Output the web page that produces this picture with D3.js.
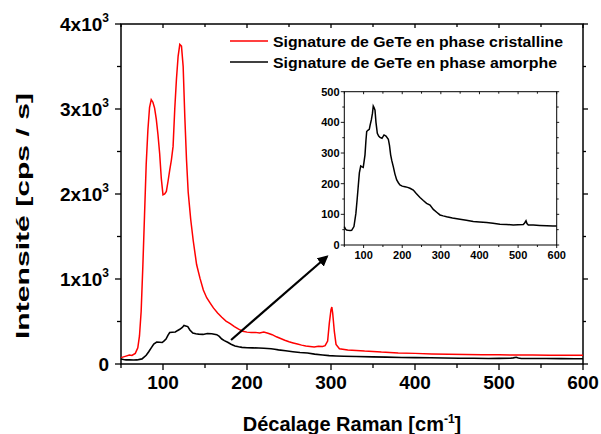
<!DOCTYPE html>
<html>
<head>
<meta charset="utf-8">
<script src="https://cdn.jsdelivr.net/npm/d3@7"></script>
<style>
  body { margin: 0; background: #fff; }
  text { font-family: "Liberation Sans", Arial, sans-serif; font-weight: bold; fill: #000; }
</style>
</head>
<body>
<svg id="chart"></svg>
<script>
// Raman shift (cm-1) and intensity (cps/s)
const crystRaman = [50,55,60,63,67,70,72,74,76,78,80,82,84,86,88,90,92,94,96,98,100,102,104,106,108,110,112,114,116,118,120,122,124,126,128,130,133,136,140,144,148,152,156,160,165,170,175,180,185,190,195,200,205,210,215,220,225,230,235,240,245,250,255,260,265,270,275,280,285,290,293,296,298,300,301,302,304,306,310,320,330,340,350,360,370,380,400,420,440,460,480,500,520,540,560,580,600];
const crystInt = [75,90,105,100,125,190,330,620,1150,1750,2350,2750,3020,3110,3080,3010,2880,2700,2480,2180,1990,2000,2030,2150,2280,2400,2560,3000,3350,3620,3760,3740,3500,2900,2400,2020,1700,1450,1170,1010,870,780,720,660,600,550,505,475,440,410,385,375,370,372,365,375,362,345,320,300,280,262,248,235,222,212,206,200,210,205,215,270,480,640,670,600,380,230,180,165,160,152,148,140,135,130,125,118,115,112,110,108,106,105,104,104,103];

const amorphRaman = [50,53,56,60,65,69,75,80,83,86,89,92.5,96,99,101,103.6,106,108,111,114.7,117,120,123,125,127,129.5,132,135.5,139,142.4,147.6,152.8,158,164,167,170,173,177,181,185.7,190,194,200,207,214,220,228.7,233,237.5,246,254.6,263,272,280.5,290,297.8,306,315,330,349.6,366,384,400,418.7,435,453,470,487.6,500,513.5,517,520.5,523,526.5,539.4,556,574,590,600];
const amorphInt = [60,52,49,48,47,48,60,103,145,190,235,258,255,253,270,294,340,370,374,377,392,408,430,453,448,440,400,364,355,351,348,359,355,345,325,294,275,255,232,212,203,196,192,190,188,185,179,173,166,155,145,136,130,116,106,98,95,92,88,84,81,77,75,73,71,68,67,65,66,67,72,79,70,65,65,64,63,62,62];

const xTicks = [100,200,300,400,500,600];
const yTicksMain = [0,1000,2000,3000,4000];
const yTicksInset = [0,100,200,300,400,500];

const legendItems = [
  {label: "Signature de GeTe en phase cristalline", color: "#ff0000", len: 290},
  {label: "Signature de GeTe en phase amorphe", color: "#000000", len: 284}
];

// arrow pointing from the amorphous curve to the inset (data units)
const arrowFrom = [181, 282];
const arrowTo = [295, 1262];

const width = 601, height = 434;
const marginLeft = 121, marginRight = 18, marginTop = 24, marginBottom = 70;

const svg = d3.select("#chart")
  .attr("width", width)
  .attr("height", height)
  .attr("viewBox", [0, 0, width, height]);

const x = d3.scaleLinear().domain([50, 600]).range([marginLeft, width - marginRight]);
const y = d3.scaleLinear().domain([0, 4000]).range([height - marginBottom, marginTop]);

const minorX = d3.range(50, 601, 50).filter(v => v % 100 !== 0);
const minorY = [500,1500,2500,3500];

// frame
svg.append("rect")
  .attr("x", x(50)).attr("y", y(4000))
  .attr("width", x(600) - x(50)).attr("height", y(0) - y(4000))
  .attr("fill", "none").attr("stroke", "#000").attr("stroke-width", 1.5);

function tickLines(g, vals, len, horiz, pos, scale) {
  g.selectAll(null).data(vals).join("line")
    .attr("x1", d => horiz ? scale(d) : pos)
    .attr("x2", d => horiz ? scale(d) : pos + len)
    .attr("y1", d => horiz ? pos : scale(d))
    .attr("y2", d => horiz ? pos + len : scale(d))
    .attr("stroke", "#000").attr("stroke-width", 1.3);
}

const ticksG = svg.append("g");
tickLines(ticksG, xTicks, 6, true, y(0), x);
tickLines(ticksG, minorX, 4, true, y(0), x);
tickLines(ticksG, xTicks, 4, true, y(4000), x);
tickLines(ticksG, minorX, 3, true, y(4000), x);
tickLines(ticksG, yTicksMain, -6, false, x(50), y);
tickLines(ticksG, minorY, -4, false, x(50), y);
tickLines(ticksG, yTicksMain, 5, false, x(600), y);
tickLines(ticksG, minorY, 3, false, x(600), y);

// x tick labels
svg.append("g").selectAll("text").data(xTicks).join("text")
  .attr("x", d => x(d)).attr("y", 389)
  .attr("text-anchor", "middle")
  .style("font-size", "19px")
  .text(d => d);

// y tick labels with superscript
const yl = svg.append("g").selectAll("text").data(yTicksMain).join("text")
  .attr("x", 109).attr("y", d => y(d) + 6.5)
  .attr("text-anchor", "end")
  .style("font-size", "19px");
yl.each(function(d) {
  const t = d3.select(this);
  if (d === 0) { t.text("0"); return; }
  t.append("tspan").text(`${d / 1000}x10`);
  t.append("tspan").attr("dy", -9).style("font-size", "12px").text("3");
});

// axis titles
const xt = svg.append("text")
  .attr("x", 352).attr("y", 431)
  .attr("text-anchor", "middle")
  .style("font-size", "20px");
xt.append("tspan").text("Décalage Raman [cm");
xt.append("tspan").attr("dy", -8).style("font-size", "12px").text("-1");
xt.append("tspan").attr("dy", 8).text("]");

svg.append("text")
  .attr("transform", "translate(29,216) rotate(-90)")
  .attr("text-anchor", "middle")
  .attr("textLength", 246)
  .attr("lengthAdjust", "spacingAndGlyphs")
  .style("font-size", "19px")
  .text("Intensité [cps / s]");

// curves
const line = d3.line().x(d => x(d[0])).y(d => y(d[1]));
svg.append("path")
  .datum(crystRaman.map((r, i) => [r, crystInt[i]]))
  .attr("d", line).attr("fill", "none")
  .attr("stroke", "#ff0000").attr("stroke-width", 1.5);
svg.append("path")
  .datum(amorphRaman.map((r, i) => [r, amorphInt[i]]))
  .attr("d", line).attr("fill", "none")
  .attr("stroke", "#000").attr("stroke-width", 1.6);

// legend
const legend = svg.append("g");
legendItems.forEach((item, i) => {
  const ly = 41 + i * 21;
  legend.append("line")
    .attr("x1", 230).attr("x2", 268).attr("y1", ly).attr("y2", ly)
    .attr("stroke", item.color).attr("stroke-width", 1.6);
  legend.append("text")
    .attr("x", 273).attr("y", ly + 5.5)
    .attr("textLength", item.len)
    .attr("lengthAdjust", "spacingAndGlyphs")
    .style("font-size", "14.5px")
    .text(item.label);
});

// arrow
svg.append("defs").append("marker")
  .attr("id", "head").attr("viewBox", "0 0 10 10")
  .attr("refX", 8).attr("refY", 5)
  .attr("markerWidth", 5).attr("markerHeight", 5)
  .attr("orient", "auto")
  .append("path").attr("d", "M0,0 L10,5 L0,10 z").attr("fill", "#000");
svg.append("line")
  .attr("x1", x(arrowFrom[0])).attr("y1", y(arrowFrom[1]))
  .attr("x2", x(arrowTo[0])).attr("y2", y(arrowTo[1]))
  .attr("stroke", "#000").attr("stroke-width", 2.2)
  .attr("marker-end", "url(#head)");

// inset
const ix = d3.scaleLinear().domain([50, 600]).range([344.3, 556.7]);
const iy = d3.scaleLinear().domain([0, 500]).range([245, 91.7]);
const inset = svg.append("g");
inset.append("rect")
  .attr("x", ix(50)).attr("y", iy(500))
  .attr("width", ix(600) - ix(50)).attr("height", iy(0) - iy(500))
  .attr("fill", "#fff").attr("stroke", "#000").attr("stroke-width", 1);
const iMinorY = [50,150,250,350,450];
tickLines(inset, xTicks, 3, true, iy(0), ix);
tickLines(inset, minorX, 2, true, iy(0), ix);
tickLines(inset, xTicks, 2.5, true, iy(500), ix);
tickLines(inset, minorX, 2, true, iy(500), ix);
tickLines(inset, yTicksInset, -3.5, false, ix(50), iy);
tickLines(inset, iMinorY, -2, false, ix(50), iy);
tickLines(inset, yTicksInset, 2.5, false, ix(600), iy);
tickLines(inset, iMinorY, 2, false, ix(600), iy);
inset.selectAll("line").attr("stroke-width", 0.9);

inset.append("g").selectAll("text").data(xTicks).join("text")
  .attr("x", d => ix(d)).attr("y", 259)
  .attr("text-anchor", "middle")
  .style("font-size", "11px")
  .text(d => d);
inset.append("g").selectAll("text").data(yTicksInset).join("text")
  .attr("x", 339.5).attr("y", d => iy(d) + 4)
  .attr("text-anchor", "end")
  .style("font-size", "11px")
  .text(d => d);

const iline = d3.line().x(d => ix(d[0])).y(d => iy(d[1]));
inset.append("path")
  .datum(amorphRaman.map((r, i) => [r, amorphInt[i]]))
  .attr("d", iline).attr("fill", "none")
  .attr("stroke", "#000").attr("stroke-width", 1.5);
</script>
</body>
</html>
